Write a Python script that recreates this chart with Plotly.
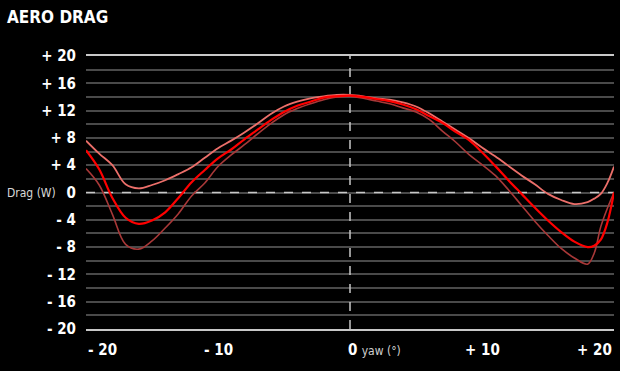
import plotly.graph_objects as go

# ---- data ----
yaw = [-20, -19, -18, -17, -16, -15, -14, -13, -12, -11, -10, -9, -8, -7, -6, -5, -4, -3, -2, -1,
       0, 1, 2, 3, 4, 5, 6, 7, 8, 9, 10, 11, 12, 13, 14, 15, 16, 17, 18, 18.5, 19, 19.5, 20]

drag_light = [7.6, 5.7, 4.0, 1.2, 0.6, 1.1, 1.8, 2.7, 3.7, 5.1, 6.5, 7.6, 8.8, 10.1, 11.5, 12.6, 13.3, 13.8, 14.1, 14.3,
              14.3, 14.1, 13.8, 13.6, 13.2, 12.6, 11.6, 10.4, 9.2, 8.0, 6.6, 5.3, 3.9, 2.5, 1.2, -0.2, -1.1, -1.7, -1.4, -0.9, -0.2, 1.4, 3.8]

drag_red = [6.2, 3.4, -0.8, -3.7, -4.6, -4.1, -2.9, -0.8, 1.5, 3.3, 5.0, 6.3, 7.8, 9.2, 10.6, 11.8, 12.7, 13.3, 13.9, 14.1,
            14.2, 14.0, 13.7, 13.4, 12.9, 12.2, 11.2, 10.2, 8.9, 7.7, 5.9, 3.9, 1.8, -0.2, -2.2, -4.1, -5.8, -7.2, -8.0, -7.8, -6.9, -4.4, 0.0]

drag_dark = [3.5, 1.1, -3.2, -7.6, -8.3, -7.1, -5.2, -3.1, -0.5, 1.4, 3.8, 5.5, 7.0, 8.6, 10.1, 11.4, 12.3, 13.0, 13.6, 14.0,
             14.1, 13.8, 13.4, 13.0, 12.4, 11.8, 10.7, 9.0, 7.4, 5.6, 4.1, 2.5, 0.4, -1.9, -4.2, -6.3, -8.2, -9.6, -10.5, -8.9, -5.0, -2.3, 0.0]

y_tick_vals = list(range(-20, 21, 2))
y_tick_text = ["- 20", "", "- 16", "", "- 12", "", "- 8", "", "- 4", "", "0", "",
               "+ 4", "", "+ 8", "", "+ 12", "", "+ 16", "", "+ 20"]

x_tick_vals = [-20, -10, 0, 10, 20]
x_tick_text = ["- 20", "- 10", "0", "+ 10", "+ 20"]
x_axis_title = "yaw (°)"
y_axis_title = "Drag (W)"
chart_title = "AERO DRAG"

FONT = "DejaVu Sans Condensed"
W, H = 620, 371
L, R, T, B = 86, 6, 56, 42

fig = go.Figure()
series = [
    (drag_dark, "#a83838", 1.6),
    (drag_light, "#ec6f6a", 1.8),
    (drag_red, "#ff0000", 2.2),
]
for vals, col, w in series:
    fig.add_trace(go.Scatter(x=yaw, y=vals, mode="lines",
                             line=dict(color=col, width=w, shape="spline", smoothing=1.0),
                             showlegend=False, hoverinfo="skip"))

# dashed zero lines
fig.add_shape(type="line", xref="x", yref="y", x0=-20, x1=20, y0=0, y1=0,
              line=dict(color="#c8c8c8", width=1.5, dash="dash"), layer="between")
fig.add_shape(type="line", xref="x", yref="y", x0=0, x1=0, y0=-20, y1=20,
              line=dict(color="#c8c8c8", width=1.5, dash="dash"), layer="between")

annotations = []
for v, t in zip(x_tick_vals, x_tick_text):
    if v == x_tick_vals[0]:
        anchor, shift = "left", 0
    elif v == x_tick_vals[-1]:
        anchor, shift = "right", 0
    elif v == 0:
        anchor, shift = "left", -4
    else:
        anchor, shift = "center", 0
    text = "<b>" + t + "</b>"
    if v == 0:
        text += " <span style='font-size:12px;color:#d0d0d0'>" + x_axis_title + "</span>"
    annotations.append(dict(x=v, y=0, xref="x", yref="paper", text=text,
                            showarrow=False, xanchor=anchor, yanchor="middle", yshift=-21, xshift=shift,
                            font=dict(family=FONT, size=15, color="white")))

annotations.append(dict(x=(5 - L) / (W - L - R), y=0, xref="paper", yref="y", text=y_axis_title,
                        showarrow=False, xanchor="left", yanchor="middle",
                        font=dict(family=FONT, size=12, color="#d8d8d8")))
annotations.append(dict(x=(5 - L) / (W - L - R), y=1 + (T - 17) / (H - T - B), xref="paper", yref="paper",
                        text="<b>" + chart_title + "</b>", showarrow=False,
                        xanchor="left", yanchor="middle",
                        font=dict(family=FONT, size=17, color="white")))

fig.update_layout(
    width=W, height=H,
    margin=dict(l=L, r=R, t=T, b=B),
    paper_bgcolor="black", plot_bgcolor="black",
    annotations=annotations,
    xaxis=dict(range=[-20, 20], showgrid=False, zeroline=False, showticklabels=False,
               showline=True, mirror=True, linecolor="#c8c8c8", linewidth=2, ticks=""),
    yaxis=dict(range=[-20, 20], tickvals=y_tick_vals,
               ticktext=["<b>" + t + "</b>" if t else "" for t in y_tick_text],
               showgrid=True, gridcolor="#4a4a4a", gridwidth=1.5, zeroline=False,
               ticks="outside", ticklen=6, tickcolor="rgba(0,0,0,0)",
               tickfont=dict(family=FONT, size=15, color="white"), showline=False),
    font=dict(family=FONT, color="white"),
)

fig.write_html("out.html", config={"displayModeBar": False},
               post_script="document.body.style.margin='0';document.body.style.background='black';")
